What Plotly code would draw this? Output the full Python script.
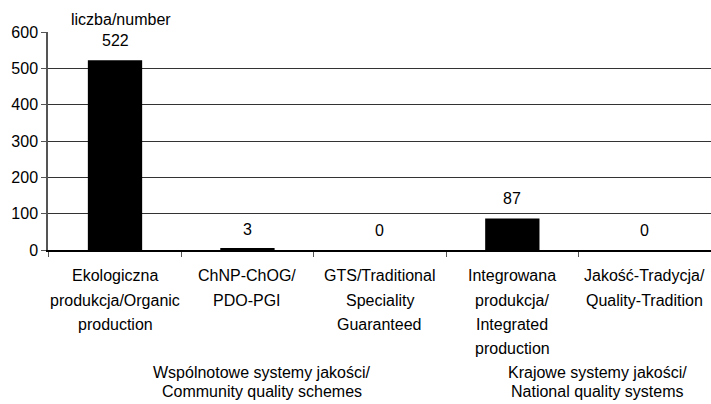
import plotly.graph_objects as go

# ---- data ----
category_lines = [
    ["Ekologiczna", "produkcja/Organic", "production"],
    ["ChNP-ChOG/", "PDO-PGI"],
    ["GTS/Traditional", "Speciality", "Guaranteed"],
    ["Integrowana", "produkcja/", "Integrated", "production"],
    ["Jakość-Tradycja/", "Quality-Tradition"],
]
values = [522, 3, 0, 87, 0]
group_lines = [
    ["Wspólnotowe systemy jakości/", "Community quality schemes"],
    ["Krajowe systemy jakości/", "National quality systems"],
]
y_ticks = [0, 100, 200, 300, 400, 500, 600]
unit_label = "liczba/number"

categories = [" ".join(l) for l in category_lines]

# ---- layout geometry (pixels) ----
W, H = 711, 404
L, R, T, B = 48, 0, 32, 154
plot_h = H - T - B
plot_w = W - L - R

def py(p):
    return (H - B - p) / plot_h

def px(p):
    return (p - L) / plot_w

FONT = "Liberation Sans, Arial, sans-serif"

fig = go.Figure(go.Bar(
    x=categories, y=values, marker=dict(color="black", line=dict(width=0)),
    hoverinfo="skip",
))

ann = []
# value labels
for i, v in enumerate(values):
    ann.append(dict(x=i, y=v, xref="x", yref="y", text=str(v), showarrow=False,
                    yanchor="bottom", yshift=9, font=dict(size=16, color="black", family=FONT)))
# category labels, line by line
line_centers = [275.5, 300, 324.5, 348.5]
for i, lines in enumerate(category_lines):
    for j, t in enumerate(lines):
        ann.append(dict(x=i, y=py(line_centers[j]), xref="x", yref="paper", text=t,
                        showarrow=False, yanchor="middle", xanchor="center",
                        font=dict(size=16, color="black", family=FONT)))
# group labels
group_x = [261.7, 597]
group_centers = [372.8, 391]
for g, lines in enumerate(group_lines):
    for j, t in enumerate(lines):
        ann.append(dict(x=px(group_x[g]), y=py(group_centers[j]), xref="paper", yref="paper",
                        text=t, showarrow=False, yanchor="middle", xanchor="center",
                        font=dict(size=16, color="black", family=FONT)))
# unit label
ann.append(dict(x=px(121), y=py(19), xref="paper", yref="paper", text=unit_label,
                showarrow=False, yanchor="middle", xanchor="center",
                font=dict(size=16, color="black", family=FONT)))

fig.update_layout(
    width=W, height=H,
    margin=dict(l=L, r=R, t=T, b=B, pad=0),
    paper_bgcolor="white", plot_bgcolor="white",
    bargap=0.59,
    showlegend=False,
    font=dict(family=FONT, size=16, color="black"),
    annotations=ann,
    xaxis=dict(
        showticklabels=False, ticks="outside", tickson="boundaries", ticklen=5,
        tickcolor="#555", showline=True, linecolor="black", linewidth=1.5,
        showgrid=False, zeroline=False, fixedrange=True, layer="above traces",
    ),
    yaxis=dict(
        range=[0, 600], tickvals=y_ticks, ticks="outside", ticklen=5, tickcolor="#555",
        showline=True, linecolor="#555", linewidth=1.5,
        showgrid=True, gridcolor="#333", gridwidth=1, zeroline=False,
        tickfont=dict(size=16, color="black", family=FONT), fixedrange=True,
    ),
)

fig.write_html(
    "out.html",
    config={"displayModeBar": False},
    post_script="document.body.style.margin='0';document.body.style.padding='0';"
                "document.documentElement.style.overflow='hidden';document.body.style.overflow='hidden';",
)
